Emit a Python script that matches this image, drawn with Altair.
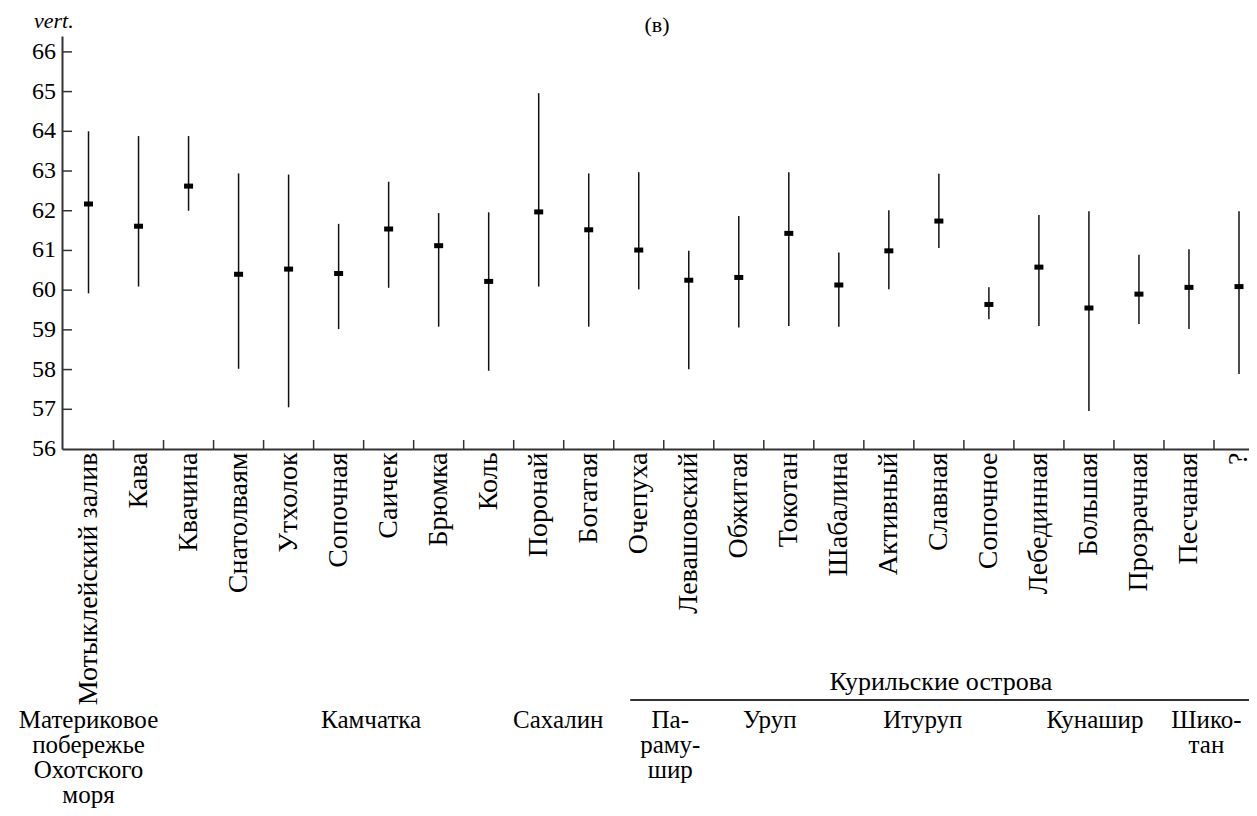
import json
import altair as alt
import pandas as pd

# ---- data ----
sites = ["Мотыклейский залив", "Кава", "Квачина", "Снатолваям", "Утхолок", "Сопочная",
         "Саичек", "Брюмка", "Коль", "Поронай", "Богатая", "Очепуха", "Левашовский",
         "Обжитая", "Токотан", "Шабалина", "Активный", "Славная", "Сопочное",
         "Лебединная", "Большая", "Прозрачная", "Песчаная", "?"]
means = [62.17, 61.61, 62.62, 60.40, 60.53, 60.42, 61.54, 61.12, 60.22, 61.97, 61.52, 61.01,
         60.25, 60.32, 61.43, 60.13, 60.99, 61.74, 59.64, 60.58, 59.55, 59.90, 60.07, 60.09]
mins = [59.92, 60.09, 62.00, 58.02, 57.05, 59.02, 60.06, 59.08, 57.97, 60.09, 59.08, 60.02,
        58.01, 59.06, 59.10, 59.08, 60.02, 61.06, 59.27, 59.10, 56.96, 59.15, 59.02, 57.89]
maxs = [64.00, 63.88, 63.88, 62.94, 62.91, 61.67, 62.73, 61.94, 61.96, 64.96, 62.94, 62.97,
        60.99, 61.87, 62.97, 60.95, 62.01, 62.93, 60.07, 61.89, 61.99, 60.89, 61.03, 61.99]

y_ticks = [57, 58, 59, 60, 61, 62, 63, 64, 65, 66]
y_labels = [56, 57, 58, 59, 60, 61, 62, 63, 64, 65, 66]
y_title = "vert."

group_names = ["Материковое\nпобережье\nОхотского\nморя", "Камчатка", "Сахалин",
               "Па-\nраму-\nшир", "Уруп", "Итуруп", "Кунашир", "Шико-\nтан"]
group_at = [0.0, 5.65, 9.39, 11.63, 13.62, 16.68, 20.12, 22.35]
kuril_name = "Курильские острова"
kuril_at = 17.04
kuril_span = [10.83, 23.2]
panel_tag = "(в)"

# ---- tables ----
df = pd.DataFrame({"idx": list(range(len(sites))), "site": sites,
                   "mean": means, "lo": mins, "hi": maxs})
ytick_df = pd.DataFrame({"v": y_ticks})
ylab_df = pd.DataFrame({"v": y_labels, "t": [str(v) for v in y_labels]})
xtick_df = pd.DataFrame({"b": [i + 0.5 for i in range(len(sites) - 1)]})
grp_df = pd.DataFrame({"name": group_names, "pos": group_at})
kur_df = pd.DataFrame({"name": [kuril_name], "pos": [kuril_at],
                       "a": [kuril_span[0]], "b": [kuril_span[1]]})
tag_df = pd.DataFrame({"name": [panel_tag]})
ytitle_df = pd.DataFrame({"name": [y_title]})

FONT = "Liberation Serif, Times New Roman, serif"
W, H = 1187, 413

xscale = alt.Scale(domain=[-0.53, 23.2], nice=False, zero=False)
yscale = alt.Scale(domain=[56, 66.4], nice=False, zero=False)

label_expr = json.dumps(sites, ensure_ascii=False) + "[round(datum.value)]"

x_axis = alt.Axis(values=list(range(len(sites))), labelExpr=label_expr, labelAngle=270,
                  labelAlign="right", labelBaseline="middle", ticks=False, tickSize=0,
                  labelPadding=3, labelFont=FONT, labelFontSize=28, labelColor="black",
                  labelLimit=0, labelOverlap=False, labelFlush=False,
                  domainColor="#333333", domainWidth=2, grid=False, title=None)
y_axis = alt.Axis(values=y_labels, ticks=False, tickSize=0, labels=False,
                  domainColor="#333333", domainWidth=2, grid=False, title=None)


def X(f):
    return alt.X(f, scale=xscale, axis=x_axis)


def Y(f):
    return alt.Y(f, scale=yscale, axis=y_axis)


bars = alt.Chart(df).mark_rule(color="#111111", strokeWidth=1.5).encode(
    x=X("idx:Q"), y=Y("lo:Q"), y2="hi:Q")
pts = alt.Chart(df).mark_tick(orient="horizontal", size=9, thickness=5, color="black",
                              opacity=1).encode(
    x=X("idx:Q"), y=Y("mean:Q"))

yt = alt.Chart(ytick_df).mark_rule(color="#333333", strokeWidth=1.5).encode(
    y=Y("v:Q"), x=alt.value(0), x2=alt.value(10))
ylab = alt.Chart(ylab_df).mark_text(align="right", baseline="middle", font=FONT,
                                    fontSize=24, color="black").encode(
    y=Y("v:Q"), x=alt.value(-6), text="t:N")
ytit = alt.Chart(ytitle_df).mark_text(align="left", baseline="alphabetic", font=FONT,
                                      fontSize=22, fontStyle="italic", color="black").encode(
    x=alt.value(-28), y=alt.value(-8), text="name:N")
xt = alt.Chart(xtick_df).mark_rule(color="#333333", strokeWidth=1.5).encode(
    x=X("b:Q"), y=alt.value(H - 9), y2=alt.value(H))

grp = alt.Chart(grp_df).mark_text(lineBreak="\n", baseline="alphabetic", align="center",
                                  font=FONT, fontSize=25, lineHeight=25, color="black").encode(
    x=X("pos:Q"), y=alt.value(692), text="name:N")
kur_t = alt.Chart(kur_df).mark_text(baseline="alphabetic", align="center", font=FONT,
                                    fontSize=26, color="black").encode(
    x=X("pos:Q"), y=alt.value(654), text="name:N")
kur_l = alt.Chart(kur_df).mark_rule(color="#333333", strokeWidth=2).encode(
    x=X("a:Q"), x2="b:Q", y=alt.value(664))
tag = alt.Chart(tag_df).mark_text(baseline="alphabetic", align="center", font=FONT,
                                  fontSize=22, color="black").encode(
    x=alt.value(595), y=alt.value(-4), text="name:N")

chart = alt.layer(bars, pts, yt, ylab, ytit, xt, grp, kur_t, kur_l, tag).properties(
    width=W, height=H,
    autosize=alt.AutoSizeParams(type="none"),
    padding={"left": 54, "top": 28, "right": 0, "bottom": 359},
    background="white",
).configure_view(stroke=None).configure_axis(
    labelFont=FONT, labelColor="black"
).configure_text(font=FONT)

chart.save("out.html", embed_options={"renderer": "svg", "actions": False})
